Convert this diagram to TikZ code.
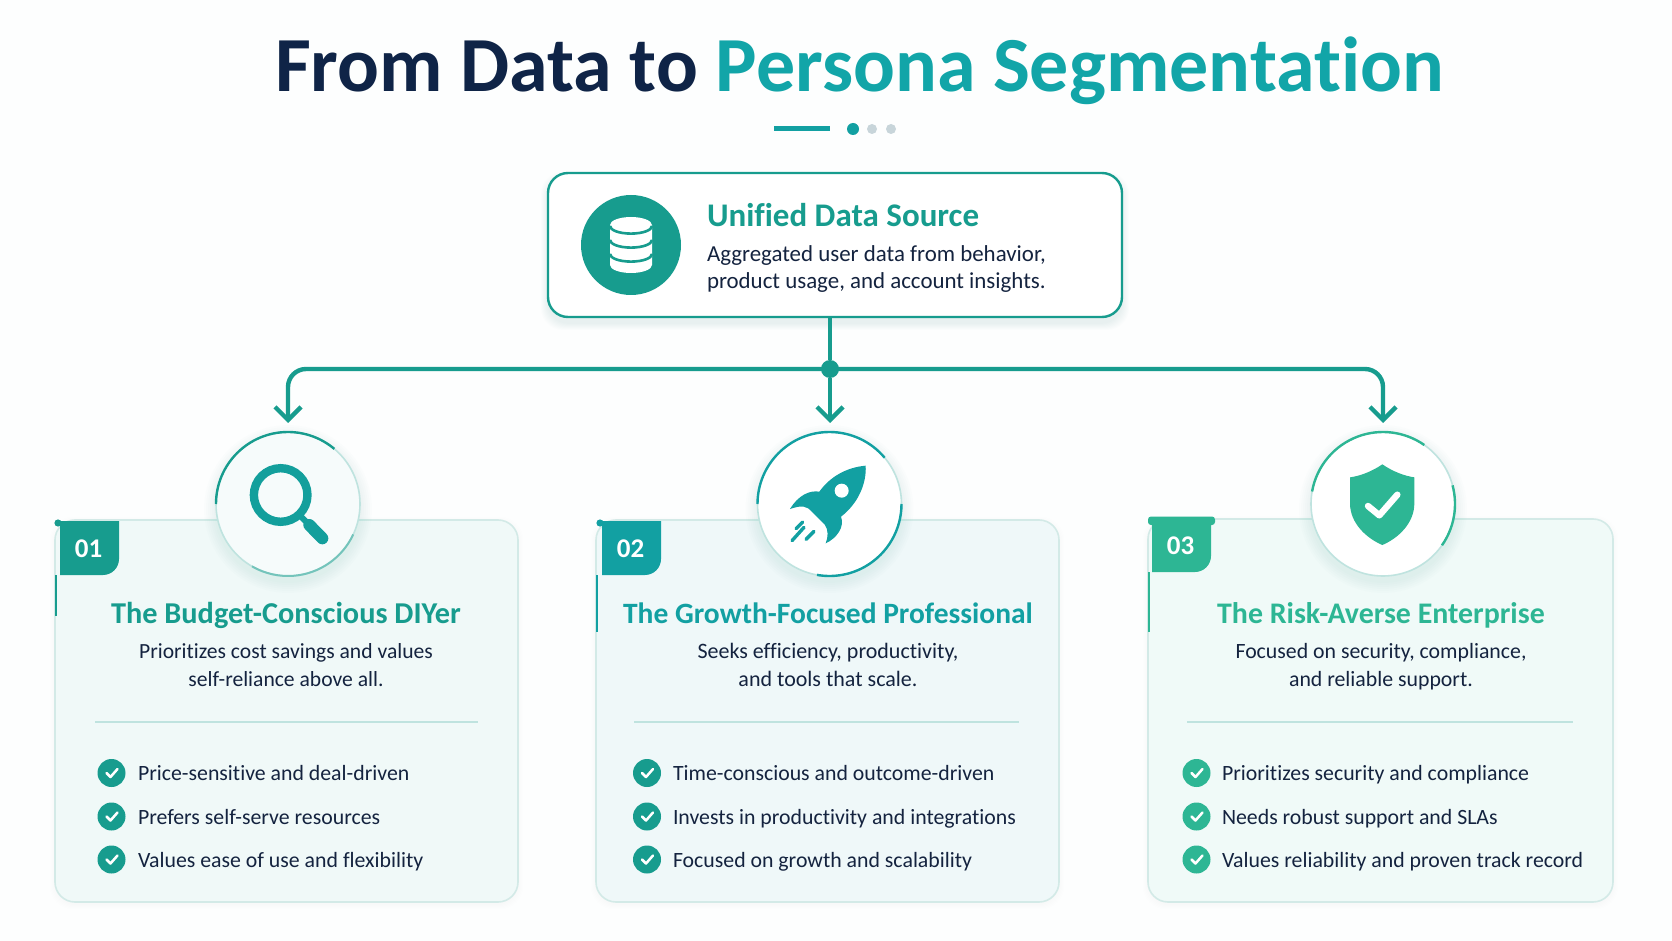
\documentclass[tikz,border=0pt]{standalone}
\usepackage{fontspec}
\setmainfont{Carlito}[Ligatures=NoCommon]
\usetikzlibrary{arrows.meta}
\definecolor{ink}{HTML}{14233F}
\definecolor{navy}{HTML}{0F2447}
\definecolor{tealT}{HTML}{12A5A8}
\definecolor{cA}{HTML}{179C8E}
\definecolor{cB}{HTML}{12A0A2}
\definecolor{cC}{HTML}{2DB694}
\definecolor{cardA}{HTML}{F0F9F8}
\definecolor{cardB}{HTML}{EFF8F9}
\definecolor{cardC}{HTML}{F0FAF8}
\definecolor{edgeC}{HTML}{D3EAE7}
\definecolor{rimC}{HTML}{BFE3DF}
\definecolor{dotC}{HTML}{C8D5DA}
\newcommand{\px}[1]{\pgfmathsetmacro\pxv{#1*0.5}\fontsize{\pxv}{\pxv}\selectfont}
\tikzset{
  x=0.5pt,y=-0.5pt,
  txt/.style={inner sep=0pt,outer sep=0pt,anchor=base},
  ltxt/.style={inner sep=0pt,outer sep=0pt,anchor=base west},
  cardbox/.style={draw=edgeC,line width=0.8pt,rounded corners=10pt,inner sep=0pt,outer sep=0pt},
  badgecircle/.style={circle,fill=white,draw=rimC,line width=0.8pt,minimum size=72pt,inner sep=0pt,outer sep=0pt},
  tick/.style={circle,minimum size=14pt,inner sep=0pt,outer sep=0pt,fill=#1},
  conn/.style={draw=cA,line width=2.2pt},
  tipconn/.style={conn,rounded corners=9pt,-{Straight Barb[length=6.5pt,width=13pt,line width=2.2pt]}},
}
% card frame:  name, left, top, right, bottom, fill
\newcommand{\cardframe}[6]{%
  \foreach \k in {1,...,5}{\fill[black,opacity=0.004,rounded corners=11pt] (#2-\k,#3-\k+2) rectangle (#4+\k,#5+\k+2);}
  \node[cardbox,fill=#6,minimum width={(#4-#2)*0.5pt},minimum height={(#5-#3)*0.5pt}] (#1) at ({(#2+#4)/2},{(#3+#5)/2}) {};
}
% badge: left, top, right, bottom, colour, number
\newcommand{\numbadge}[7]{%
  \fill[#5] (#1,#2) -- (#3,#2) [rounded corners=8pt] -- (#3,#4) [sharp corners] -- (#1,#4) -- cycle;
  \node[txt,text=white] (#7) at ({(#1+#3)/2-1},{#4-18}) {\px{27}\bfseries #6};
}
% roundel rim shadow
\newcommand{\softdisc}[2]{%
  \foreach \k in {1,...,6}{\fill[cA,opacity=0.012] (#1,#2+5) circle[radius=36pt+\k*1pt];}
}
\newcommand{\bullets}[8]{% colour, circle x, text x, prefix, three texts
  \foreach \yy/\nm in {773/a,816.5/b,859.5/c}{
    \node[tick=#1] (#4\nm) at (#2,\yy) {};
    \draw[white,line width=1.25pt,line cap=round,line join=round] ([shift={(-5,0)}]#4\nm.center) -- ([shift={(-1,4)}]#4\nm.center) -- ([shift={(6,-4)}]#4\nm.center);
  }
  \node[ltxt,text=ink] at (#3,780) {\px{21.8}#5};
  \node[ltxt,text=ink] at (#3,824) {\px{21.8}#6};
  \node[ltxt,text=ink] at (#3,867) {\px{21.8}#7};
}
\begin{document}
\begin{tikzpicture}
\useasboundingbox (0,0) rectangle (1672,941);
\fill[white!99!cA] (0,0) rectangle (1672,941);

% title
\node[ltxt] (title) at (275,92) {\px{78}\bfseries\textcolor{navy}{From Data to }\textcolor{tealT}{Persona Segmentation}};
\fill[cB] (774,126.5) rectangle (830,131.5);
\fill[cB] (853,129) circle[radius=3pt];
\fill[dotC] (872,129) circle[radius=2.5pt];
\fill[dotC] (891,129) circle[radius=2.5pt];

% source box
\foreach \k in {1,...,7}{\fill[cA,opacity=0.012,rounded corners=11pt] (548-\k,173-\k+6) rectangle (1122+\k,317+\k+6);}
\node[draw=cA,fill=white,line width=1.2pt,rounded corners=10pt,minimum width=287pt,minimum height=72pt,inner sep=0pt,outer sep=0pt] (src) at (835,245) {};
\node[circle,fill=cA,minimum size=50pt,inner sep=0pt,outer sep=0pt] (dbicon) at (631,245) {};
\fill[white] (610,225) -- (610,265) arc[start angle=180,end angle=360,x radius=10.5pt,y radius=4pt] -- (652,225) arc[start angle=0,end angle=180,x radius=10.5pt,y radius=4pt] -- cycle;
\foreach \yy in {226,240,254}{\draw[cA,line width=1.3pt] (610,\yy) arc[start angle=180,end angle=360,x radius=10.5pt,y radius=3.8pt];}
\node[ltxt,text=cA] (srct) at (707,227) {\px{33}\bfseries Unified Data Source};
\node[ltxt,text=ink] at (707,262) {\px{22.9}Aggregated user data from behavior,};
\node[ltxt,text=ink] at (707,289) {\px{22.9}product usage, and account insights.};

% cards
\cardframe{card1}{55}{520}{518}{902}{cardA}
\cardframe{card2}{596}{520}{1059}{902}{cardB}
\cardframe{card3}{1148}{519}{1613}{902}{cardC}

% badges
\numbadge{60}{521}{119}{575}{cA}{01}{n1}
\fill[cA] (58,523) circle[radius=1.8pt];
\fill[cA] (54.5,575) rectangle (56.5,616);
\numbadge{602}{521}{661}{575}{cB}{02}{n2}
\fill[cB] (600,523) circle[radius=1.8pt];
\fill[cB] (595.5,575) rectangle (597.5,632);
\numbadge{1152}{517}{1211}{572}{cC}{03}{n3}
\fill[cC,rounded corners=1.5pt] (1148,516.5) rectangle (1215,525);
\fill[cC] (1147.5,572) rectangle (1150,632);

% roundels
\softdisc{288}{504}\softdisc{829.5}{504}\softdisc{1383}{504}
\node[badgecircle,fill=white!40!cardA] (c1) at (288,504) {};
\node[badgecircle] (c2) at (829.5,504) {};
\node[badgecircle] (c3) at (1383,504) {};
\draw[cA,line width=1.2pt] ([shift={(180:36pt)}]c1.center) arc[start angle=180,end angle=50,radius=36pt];
\draw[cA!60!white,line width=1pt] ([shift={(-25:36pt)}]c1.center) arc[start angle=-25,end angle=-120,radius=36pt];
\draw[cB,line width=1.2pt] ([shift={(180:36pt)}]c2.center) arc[start angle=180,end angle=40,radius=36pt];
\draw[cB,line width=1.2pt] ([shift={(0:36pt)}]c2.center) arc[start angle=0,end angle=-100,radius=36pt];
\draw[cC,line width=1.2pt] ([shift={(170:36pt)}]c3.center) arc[start angle=170,end angle=55,radius=36pt];
\draw[cC,line width=1.2pt] ([shift={(15:36pt)}]c3.center) arc[start angle=15,end angle=-35,radius=36pt];

% connectors
\node[circle,fill=cA,minimum size=9pt,inner sep=0pt,outer sep=0pt] (jn) at (830,369) {};
\draw[conn] (src.south -| jn) -- (jn);
\draw[tipconn,shorten >=4.5pt] (jn) -- (jn |- c2.north);
\draw[tipconn,shorten >=4.5pt] (jn.center) -| (c1.north);
\draw[tipconn,shorten >=4.5pt] (jn.center) -| (c3.north);

% magnifier
\begin{scope}[shift={(40,400)},x=0.16667pt,y=-0.16667pt]
  \draw[cB!70!cA,line width=4.2pt] (722,285) circle[radius=13.4pt];
  \draw[cB!70!cA,line width=3pt] (778,345) -- (805,372);
  \draw[cB!70!cA,line width=6pt,line cap=round] (808,375) -- (847,415);
\end{scope}

% rocket
\begin{scope}[shift={(580,340)},x=0.16667pt,y=-0.16667pt]
  \fill[cB] (857,377) .. controls (800,382) and (750,410) .. (718,455)
    .. controls (690,450) and (655,465) .. (630,507)
    .. controls (665,495) and (680,497) .. (695,515)
    -- (735,555)
    .. controls (745,570) and (745,590) .. (737,610)
    .. controls (770,595) and (795,560) .. (783,530)
    .. controls (835,490) and (860,430) .. (857,377) -- cycle;
  \fill[white] (785,452) circle[radius=3.5pt];
  \draw[cB,line width=1.7pt,line cap=round] (668,546) -- (648,566);
  \draw[cB,line width=1.7pt,line cap=round] (672,562) -- (636,602);
  \draw[cB,line width=1.7pt,line cap=round] (702,574) -- (678,598);
\end{scope}

% shield
\begin{scope}[shift={(1130,400)},x=0.16667pt,y=-0.16667pt]
  \fill[cC] (757,193) .. controls (725,215) and (690,228) .. (660,232) -- (660,310)
    .. controls (660,370) and (710,415) .. (757,435)
    .. controls (804,415) and (853,370) .. (853,310) -- (853,232)
    .. controls (824,228) and (789,215) .. (757,193) -- cycle;
  \draw[white,line width=3.2pt,line cap=round,line join=round] (714,318) -- (748,346) -- (802,284);
\end{scope}

% card texts
\node[txt,text=cA] (t1) at (286,623) {\px{30.3}\bfseries The Budget-Conscious DIYer};
\node[txt,text=ink] at (286,658) {\px{21.6}Prioritizes cost savings and values};
\node[txt,text=ink] at (286,686) {\px{21.6}self-reliance above all.};
\node[txt,text=cB] (t2) at (828,623) {\px{29.5}\bfseries The Growth-Focused Professional};
\node[txt,text=ink] at (828,658) {\px{22}Seeks efficiency, productivity,};
\node[txt,text=ink] at (828,686) {\px{22}and tools that scale.};
\node[txt,text=cC] (t3) at (1381,623) {\px{29.9}\bfseries The Risk-Averse Enterprise};
\node[txt,text=ink] at (1381,658) {\px{21.8}Focused on security, compliance,};
\node[txt,text=ink] at (1381,686) {\px{21.8}and reliable support.};

% dividers
\draw[rimC,line width=0.7pt] (95,722) -- (478,722);
\draw[rimC,line width=0.7pt] (634,722) -- (1019,722);
\draw[rimC,line width=0.7pt] (1187,722) -- (1573,722);

% bullets
\bullets{cA}{111.5}{138}{a}{Price-sensitive and deal-driven}{Prefers self-serve resources}{Values ease of use and flexibility}{}
\bullets{cA}{647}{673}{b}{Time-conscious and outcome-driven}{Invests in productivity and integrations}{Focused on growth and scalability}{}
\bullets{cC}{1196.5}{1222}{d}{Prioritizes security and compliance}{Needs robust support and SLAs}{Values reliability and proven track record}{}
\end{tikzpicture}
\end{document}
